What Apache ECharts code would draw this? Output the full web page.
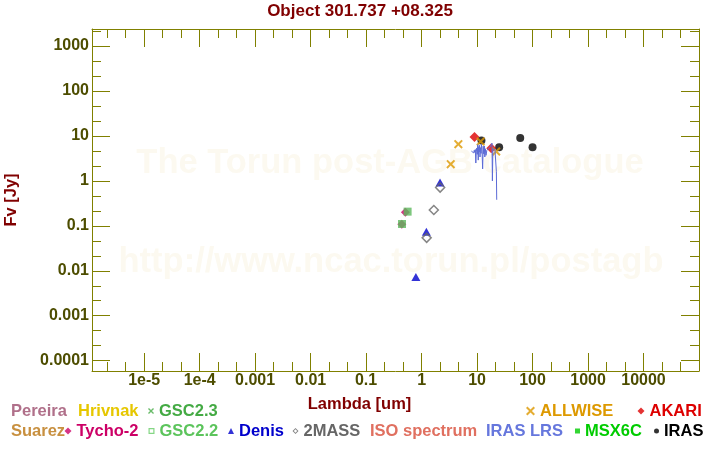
<!DOCTYPE html>
<html><head><meta charset="utf-8">
<script src="https://cdn.jsdelivr.net/npm/echarts@6/dist/echarts.min.js"></script>
<style>html,body{margin:0;padding:0;background:#fff}#c{width:720px;height:450px}</style>
</head><body><div id="c"></div>
<script>
const FONT = '"Liberation Sans", Arial, Helvetica, sans-serif';

// ---- tick labels (exponent -> label) ----
const xTickLabels = ['1e-5','1e-4','0.001','0.01','0.1','1','10','100','1000','10000']; // exponents -5..4
const yTickLabels = ['0.0001','0.001','0.01','0.1','1','10','100','1000'];            // exponents -4..3

// ---- photometry (wavelength in um, flux in Jy) ----
const tychoLambda = [0.44, 0.51];
const tychoFlux   = [0.108, 0.20];
const gsc22Lambda = [0.444, 0.56];
const gsc22Flux   = [0.11, 0.207];
const denisLambda = [0.79, 1.22, 2.15];
const denisFlux   = [0.0073, 0.074, 0.92];
const tmassLambda = [1.235, 1.662, 2.159];
const tmassFlux   = [0.054, 0.225, 0.71];
const irasLambda  = [12, 25, 60, 100];
const irasFlux    = [7.9, 5.6, 9.0, 5.6];
const allwiseLambda = [3.35, 4.6, 11.6, 22.1];
const allwiseFlux   = [2.36, 6.58, 7.52, 4.5];
const akariLambda = [9.0, 18.0];
const akariFlux   = [9.44, 5.36];

// ---- IRAS LRS spectrum ----
const lrsLambda = [7.9, 8.1, 8.3, 8.5, 8.7, 8.9, 9.1, 9.3, 9.5, 9.7, 9.9, 10.1, 10.3, 10.5, 10.7, 10.9, 11.1, 11.3, 11.5, 11.8, 12.0, 12.3, 12.6, 12.9, 13.2, 13.5, 13.8, 14.1, 14.5, 15.0, 16.0, 17.0, 18.0, 18.6, 18.9, 19.3, 20.0, 21.0, 21.8, 22.3, 22.6];
const lrsFlux   = [4.6, 4.9, 4.4, 4.7, 4.2, 4.8, 4.3, 5.0, 2.5, 4.6, 5.4, 3.9, 6.4, 2.9, 5.8, 4.4, 6.2, 3.4, 5.5, 4.1, 6.5, 4.6, 1.85, 5.9, 4.0, 6.0, 3.4, 5.2, 3.7, 4.8, 5.2, 5.6, 6.2, 6.9, 1.0, 5.2, 4.8, 5.0, 4.6, 1.6, 0.38];

function pts(lam, flux) { return lam.map((l, i) => [Math.log10(l), Math.log10(flux[i])]); }

const X_PATH = 'path://M0,1.6L1.6,0L5,3.4L8.4,0L10,1.6L6.6,5L10,8.4L8.4,10L5,6.6L1.6,10L0,8.4L3.4,5Z';
const HOLLOW_SQ = 'path://M0,0H10V10H0Z M2,2V8H8V2Z';
const HOLLOW_DIA = 'path://M5,0L10,5L5,10L0,5Z M5,2.2L2.2,5L5,7.8L7.8,5Z';

const axisCommon = {
  type: 'value',
  axisLine: { show: true, onZero: false, lineStyle: { color: '#808000', width: 1 } },
  axisTick: { show: true, inside: true, length: 18, lineStyle: { color: '#808000' } },
  minorTick: { show: true, splitNumber: 3, length: 9, lineStyle: { color: '#808000' } },
  splitLine: { show: false },
  minorSplitLine: { show: false }
};
const labelStyle = { color: '#4d4d00', fontSize: 16, fontWeight: 'bold', fontFamily: FONT };
const nameStyle = { color: '#800000', fontSize: 16.5, fontWeight: 'bold', fontFamily: FONT };

function xFmt(v) { const e = Math.round(v); if (Math.abs(v - e) > 1e-6) return ''; return xTickLabels[e + 5] || ''; }
function yFmt(v) { const e = Math.round(v); if (Math.abs(v - e) > 1e-6) return ''; return yTickLabels[e + 4] || ''; }

const XMIN = -5.94, XMAX = 5, YMIN = -4.23, YMAX = 3.38;

function leg(name, left, top, icon, w, h, iconColor, textColor) {
  return {
    data: [{ name: name, icon: icon, itemStyle: { color: iconColor, borderWidth: 0 } }],
    left: left, top: top, itemWidth: w, itemHeight: h, padding: 0, itemGap: 0,
    selectedMode: false,
    textStyle: { color: textColor, fontSize: 16.5, fontWeight: 'bold', fontFamily: FONT }
  };
}
const R1 = 402.5, R2 = 422.5;

const option = {
  animation: false,
  backgroundColor: '#ffffff',
  title: {
    text: 'Object 301.737 +08.325', left: 'center', top: 3, padding: 0,
    textStyle: { color: '#800000', fontSize: 17, fontWeight: 'bold', fontFamily: FONT }
  },
  graphic: [
    { type: 'text', x: 390, y: 163, z: -10, silent: true,
      style: { text: 'The Torun post-AGB catalogue', font: 'bold 34.5px "Liberation Sans", Arial, sans-serif', fill: '#fcf9f0', textAlign: 'center', textVerticalAlign: 'middle' } },
    { type: 'text', x: 391, y: 262, z: -10, silent: true,
      style: { text: 'http://www.ncac.torun.pl/postagb', font: 'bold 34.5px "Liberation Sans", Arial, sans-serif', fill: '#fcf9f0', textAlign: 'center', textVerticalAlign: 'middle' } }
  ],
  grid: { left: 92, right: 21, top: 29, bottom: 79, containLabel: false, outerBoundsMode: 'none' },
  xAxis: [
    Object.assign({}, axisCommon, {
      position: 'bottom', min: XMIN, max: XMAX, splitNumber: 11,
      axisLabel: Object.assign({ formatter: xFmt, margin: 2, showMinLabel: false, showMaxLabel: false }, labelStyle),
      name: 'Lambda [um]', nameLocation: 'middle', nameGap: 25,
      nameTextStyle: Object.assign({ padding: [0, 72, 0, 0] }, nameStyle)
    }),
    Object.assign({}, axisCommon, {
      position: 'top', min: XMIN, max: XMAX, splitNumber: 11, axisLabel: { show: false }
    })
  ],
  yAxis: [
    Object.assign({}, axisCommon, {
      position: 'left', min: YMIN, max: YMAX, splitNumber: 8,
      axisLabel: Object.assign({ formatter: yFmt, margin: 3, showMinLabel: false, showMaxLabel: false }, labelStyle),
      name: 'Fv [Jy]', nameLocation: 'middle', nameGap: 72, nameTextStyle: nameStyle
    }),
    Object.assign({}, axisCommon, {
      position: 'right', min: YMIN, max: YMAX, splitNumber: 8, axisLabel: { show: false }
    })
  ],
  legend: [
    leg('Pereira', 6, R1, 'none', 0, 8, '#b0708a', '#b0708a'),
    leg('Hrivnak', 73, R1, 'none', 0, 8, '#e6c700', '#e6c700'),
    leg('GSC2.3', 148, R1, X_PATH, 6, 6, '#44aa44', '#44aa44'),
    leg('ALLWISE', 526, R1, X_PATH, 9, 9, '#dd9900', '#dd9900'),
    leg('AKARI', 637.5, R1, 'diamond', 7, 7, '#dd0000', '#dd0000'),
    leg('Suarez', 6, R2, 'none', 0, 8, '#c89040', '#c89040'),
    leg('Tycho-2', 64.5, R2, 'diamond', 7, 7, '#cc0066', '#cc0066'),
    leg('GSC2.2', 148.5, R2, HOLLOW_SQ, 6, 6, '#66cc66', '#5cc45c'),
    leg('Denis', 228, R2, 'triangle', 6, 6, '#0000cc', '#0000cc'),
    leg('2MASS', 292.5, R2, HOLLOW_DIA, 6, 7, '#666666', '#666666'),
    leg('ISO spectrum', 365, R2, 'none', 0, 8, '#e07060', '#e07060'),
    leg('IRAS LRS', 481, R2, 'none', 0, 8, '#6677dd', '#6677dd'),
    leg('MSX6C', 575, R2, 'rect', 5, 5, '#00cc00', '#00cc00'),
    leg('IRAS', 654, R2, 'circle', 5, 5, '#000000', '#000000')
  ],
  series: [
    { name: 'Pereira', type: 'scatter', data: [], itemStyle: { color: '#b0708a' } },
    { name: 'Hrivnak', type: 'scatter', data: [], itemStyle: { color: '#e6c700' } },
    { name: 'Suarez', type: 'scatter', data: [], itemStyle: { color: '#c89040' } },
    { name: 'ISO spectrum', type: 'line', data: [], showSymbol: false, lineStyle: { color: '#e07060', width: 1 }, itemStyle: { color: '#e07060' } },
    { name: 'IRAS LRS', type: 'line', data: pts(lrsLambda, lrsFlux), showSymbol: false, symbol: 'none',
      lineStyle: { color: '#5c6bd6', width: 1 }, itemStyle: { color: '#5c6bd6' } },
    { name: 'GSC2.3', type: 'scatter', data: [], symbol: X_PATH, symbolSize: 7, itemStyle: { color: '#44aa44' } },
    { name: 'Tycho-2', type: 'scatter', data: pts(tychoLambda, tychoFlux), symbol: 'diamond', symbolSize: 9, itemStyle: { color: '#cc0066' } },
    { name: 'GSC2.2', type: 'scatter', data: pts(gsc22Lambda, gsc22Flux), symbol: 'rect', symbolSize: 8, itemStyle: { color: '#5cb85c' } },
    { name: 'Denis', type: 'scatter', data: pts(denisLambda, denisFlux), symbol: 'triangle', symbolSize: [9, 8], itemStyle: { color: '#0000cc' } },
    { name: '2MASS', type: 'scatter', data: pts(tmassLambda, tmassFlux), symbol: 'diamond', symbolSize: 9,
      itemStyle: { color: 'rgba(255,255,255,0)', borderColor: '#666666', borderWidth: 1.5 } },
    { name: 'MSX6C', type: 'scatter', data: [], symbol: 'rect', symbolSize: 7, itemStyle: { color: '#00cc00' } },
    { name: 'IRAS', type: 'scatter', data: pts(irasLambda, irasFlux), symbol: 'circle', symbolSize: 8, itemStyle: { color: '#000000' } },
    { name: 'AKARI', type: 'scatter', data: pts(akariLambda, akariFlux), symbol: 'diamond', symbolSize: 10, itemStyle: { color: '#dd0000' } },
    { name: 'ALLWISE', type: 'scatter', data: pts(allwiseLambda, allwiseFlux), symbol: X_PATH, symbolSize: 9, itemStyle: { color: '#dd9900' } }
  ]
};
const chart = echarts.init(document.getElementById('c'), null, { renderer: 'canvas' });
chart.setOption(option);
</script>
</body></html>
